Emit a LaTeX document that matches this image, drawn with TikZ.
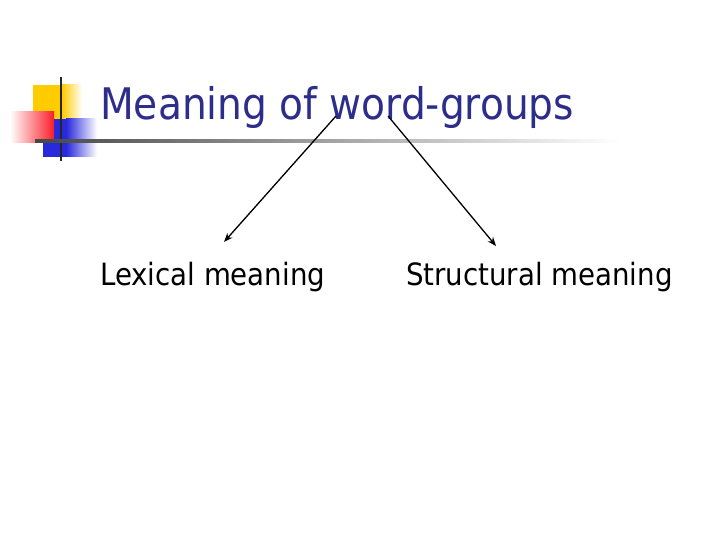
\documentclass[tikz,border=0pt]{standalone}
\usepackage{fontspec}
\setmainfont{DejaVu Sans Condensed}
\usepackage{tikz}
\usepackage{xcolor}
\usetikzlibrary{arrows.meta}

\definecolor{titleblue}{RGB}{45,45,140}
\definecolor{logoyellow}{RGB}{255,204,0}
\definecolor{logored}{RGB}{250,30,40}
\definecolor{logoblue}{RGB}{40,40,220}
\definecolor{ruledark}{RGB}{70,70,70}

\tikzset{
	slidetitle/.style = {anchor=base west, inner sep=0pt, text=titleblue, font=\fontsize{43.5}{50}\selectfont},
	slidetext/.style = {anchor=base west, inner sep=0pt, text=black, font=\fontsize{30.7}{36}\selectfont},
	branch/.style = {-{Stealth[length=9pt,width=7pt]}, line width=1.3pt}
}

\begin{document}
\begin{tikzpicture}[x=1pt,y=-1pt]
		\useasboundingbox (0,0) rectangle (720,540);
		% logo
		\fill [logoyellow] (33,85) rectangle (62,121);
		\shade [left color=logoyellow, right color=white] (62,85) rectangle (82,121);
		\fill [logoblue] (43,119) rectangle (66,157);
		\shade [left color=logoblue, right color=white] (66,119) rectangle (97,157);
		\shade [left color=white, right color=logored] (10,112) rectangle (54,143);
		\draw [line width=2.2pt, black!85] (61,77) -- (61,161);
		\shade [left color=ruledark, right color=white] (35,140) rectangle (620,142.5);
		% title and items
		\node [slidetitle] (title) at (100,120) {Meaning of word-groups};
		\node [slidetext] (lexical) at (100,285) {Lexical meaning};
		\node [slidetext] (structural) at (406,285) {Structural meaning};
		\coordinate (wordL) at (336,116);
		\coordinate (wordR) at (388,116);
		\draw [branch] (wordL) -- ([shift={(124,-43)}]lexical.base west);
		\draw [branch] (wordR) -- ([shift={(90,-39)}]structural.base west);
\end{tikzpicture}
\end{document}
